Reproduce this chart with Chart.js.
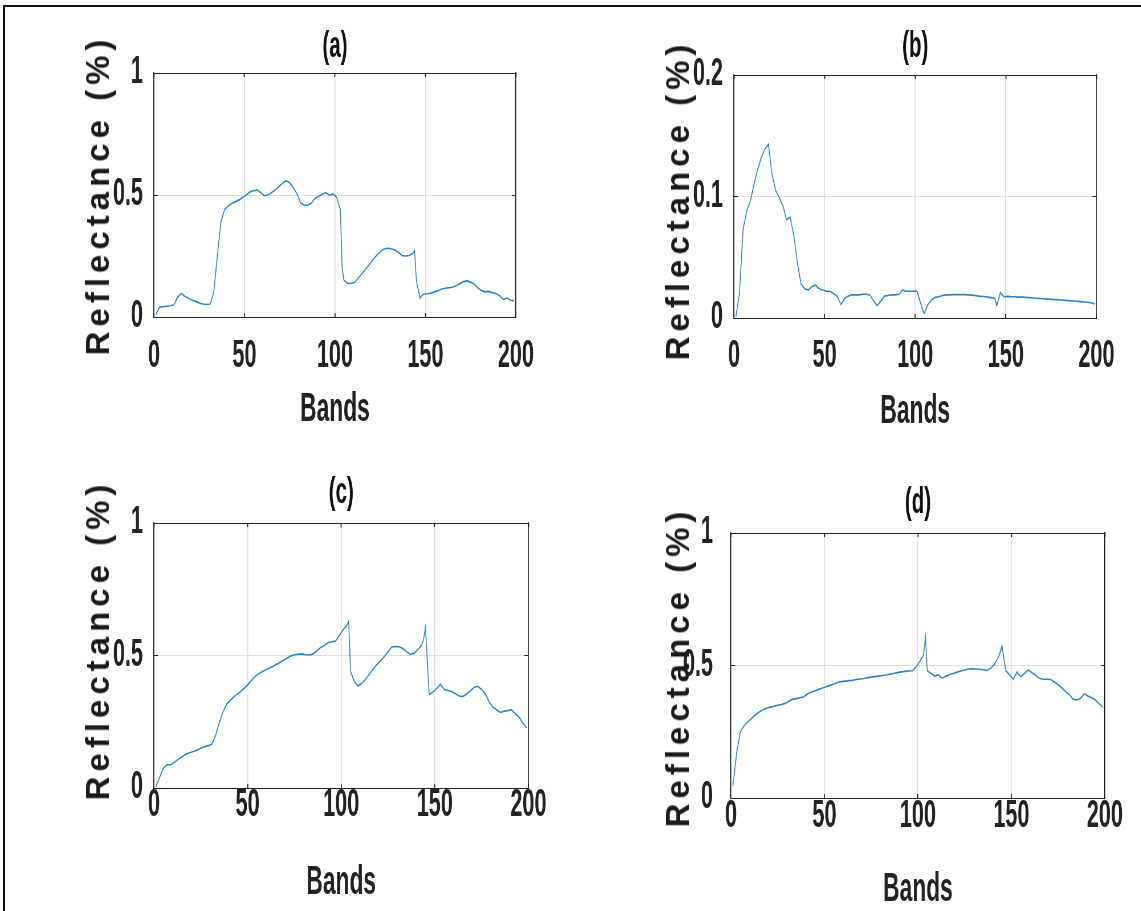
<!DOCTYPE html>
<html>
<head>
<meta charset="utf-8">
<script src="https://cdn.jsdelivr.net/npm/chart.js@4.4.1/dist/chart.umd.min.js"></script>
<style>
body { margin: 0; background: #fff; width: 1141px; height: 911px; overflow: hidden; position: relative; }
.frame { position: absolute; left: 3px; top: 5px; width: 1140px; height: 910px; border-top: 2px solid #111; border-left: 2px solid #111; }
.panel { position: absolute; }
.panel canvas { transform: scaleX(0.57); transform-origin: 0 0; }
.ylab { position: absolute; font-family: 'Liberation Sans', Arial, sans-serif; font-weight: bold; font-size: 33px;
        letter-spacing: 5px; color: #1a1a1a; white-space: nowrap; transform: translate(-50%, -50%) rotate(-90deg); }
</style>
</head>
<body>
<div class="frame"></div>
<script>
// band numbers (x) shared by all four spectra
const bands = [1,3,5,7,9,11,13,15,17,19,21,23,25,27,29,31,33,35,37,39,41,43,45,47,49,51,53,55,57,59,
  61,63,65,67,69,71,73,75,77,79,81,83,85,87,89,91,93,95,97,99,101,103,104,105,107,109,111,113,115,117,
  119,121,123,125,127,129,131,133,135,137,139,141,143,144,145,147,149,151,153,155,157,159,161,163,165,
  167,169,171,173,175,177,179,181,183,185,187,189,191,193,195,197,199];

const reflA = [0.01,0.04,0.042,0.044,0.046,0.05,0.08,0.097,0.085,0.077,
  0.07,0.064,0.058,0.053,0.051,0.053,0.1,0.25,0.39,0.44,
  0.455,0.465,0.472,0.48,0.49,0.5,0.512,0.518,0.52,0.51,
  0.497,0.5,0.51,0.52,0.535,0.548,0.558,0.55,0.53,0.505,
  0.468,0.458,0.458,0.467,0.487,0.495,0.503,0.51,0.498,0.505,
  0.49,0.44,0.2,
  0.15,0.138,0.137,0.142,0.16,0.178,0.196,0.215,0.235,0.252,0.267,0.279,0.282,0.28,0.275,0.265,0.252,0.25,0.252,0.26,
  0.272,
  0.15,0.078,0.094,0.095,0.098,0.103,0.108,0.115,0.118,0.12,0.122,0.128,0.136,0.145,0.148,0.143,0.134,0.12,0.108,0.103,
  0.105,0.1,0.095,0.088,0.072,0.078,0.07,0.066];

const reflB = [0.001,0.02,0.073,0.088,0.096,0.11,0.122,0.132,0.139,0.143,
  0.118,0.105,0.099,0.092,0.081,0.083,0.068,0.045,0.028,0.024,
  0.023,0.026,0.027,0.024,0.023,0.022,0.022,0.02,0.018,0.011,
  0.016,0.018,0.019,0.019,0.019,0.0195,0.0195,0.019,0.014,0.01,
  0.014,0.018,0.0185,0.019,0.019,0.0195,0.023,0.022,0.022,0.022,
  0.022,0.012,0.007,
  0.004,0.011,0.015,0.017,0.0175,0.0185,0.019,0.019,0.0192,0.0192,0.0193,0.0192,0.019,0.0188,0.0185,0.018,0.0178,0.0175,0.017,0.0165,
  0.016,
  0.01,0.021,0.0175,0.0178,0.0175,0.0175,0.0172,0.0173,0.017,0.0168,0.0165,0.0163,0.016,0.0158,0.0155,0.0153,0.0151,0.015,0.0148,0.0145,
  0.0143,0.014,0.0138,0.0135,0.0132,0.013,0.0125,0.0115];

const reflC = [0.005,0.04,0.075,0.088,0.088,0.098,0.108,0.118,0.127,0.133,
  0.138,0.143,0.15,0.156,0.16,0.166,0.2,0.25,0.29,0.318,
  0.333,0.346,0.357,0.369,0.382,0.397,0.413,0.427,0.436,0.443,
  0.45,0.457,0.465,0.473,0.482,0.49,0.498,0.503,0.505,0.506,
  0.503,0.502,0.506,0.518,0.53,0.538,0.548,0.552,0.555,0.575,
  0.598,0.612,0.63,
  0.44,0.402,0.385,0.395,0.41,0.43,0.448,0.465,0.48,0.496,0.515,0.532,0.534,0.533,0.526,0.514,0.505,0.508,0.522,0.54,
  0.56,
  0.606,0.352,0.362,0.375,0.392,0.372,0.368,0.364,0.356,0.347,0.345,0.355,0.366,0.38,0.384,0.372,0.355,0.325,0.305,0.295,
  0.285,0.29,0.292,0.295,0.28,0.268,0.245,0.228];

const reflD = [0.045,0.17,0.25,0.273,0.288,0.3,0.314,0.324,0.333,0.339,
  0.343,0.346,0.35,0.353,0.357,0.365,0.373,0.375,0.378,0.382,
  0.393,0.4,0.405,0.41,0.415,0.42,0.425,0.43,0.436,0.439,
  0.441,0.443,0.444,0.447,0.449,0.451,0.454,0.456,0.458,0.46,
  0.462,0.464,0.467,0.47,0.473,0.476,0.478,0.479,0.48,0.495,
  0.515,0.54,0.606,
  0.48,0.47,0.46,0.465,0.452,0.46,0.466,0.47,0.475,0.479,0.483,0.487,0.488,0.487,0.486,0.484,0.481,0.49,0.505,0.53,
  0.55,
  0.573,0.48,0.465,0.448,0.475,0.458,0.47,0.483,0.473,0.463,0.452,0.448,0.448,0.447,0.438,0.428,0.415,0.402,0.39,0.373,
  0.37,0.375,0.393,0.385,0.378,0.37,0.355,0.342];

const bandTicks = [0, 50, 100, 150, 200];
const reflTicks = [0, 0.5, 1];
const reflTicksB = [0, 0.1, 0.2];

const S = 0.57;          // horizontal squeeze of the original figure
const FONT = "'Liberation Sans', Arial, sans-serif";
const INK = '#222';

const panels = [
  { title: '(a)', values: reflA, yTicks: reflTicks,  L: 154, T: 73,  R: 532,  B: 317, titleY: 47,  tickY: 357, bandsY: 410, yTickRight: 143, labX: 98,  labY: 195 },
  { title: '(b)', values: reflB, yTicks: reflTicksB, L: 734, T: 75,  R: 1112, B: 318, titleY: 47,  tickY: 357, bandsY: 412, yTickRight: 723, labX: 678, labY: 200 },
  { title: '(c)', values: reflC, yTicks: reflTicks,  L: 154, T: 523, R: 532,  B: 788, titleY: 493, tickY: 806, bandsY: 883, yTickRight: 143, labX: 98,  labY: 640 },
  { title: '(d)', values: reflD, yTicks: reflTicks,  L: 731, T: 533, R: 1109, B: 798, titleY: 503, tickY: 817, bandsY: 890, yTickRight: 713, labX: 678, labY: 667 }
];

function setTicks(list) {
  return scale => { scale.ticks = list.map(v => ({ value: v })); };
}

panels.forEach(p => {
  const cx0 = p.L - 64, cx1 = p.R + 14, cy0 = p.T - 62, cy1 = p.bandsY + 30;
  const div = document.createElement('div');
  div.className = 'panel';
  div.style.left = cx0 + 'px';
  div.style.top = cy0 + 'px';
  const cv = document.createElement('canvas');
  cv.width = Math.round((cx1 - cx0) / S);
  cv.height = cy1 - cy0;
  div.appendChild(cv);
  document.body.appendChild(div);

  const leftW = (p.L - cx0) / S;
  const padRight = cv.width - (p.R - cx0) / S;
  const topH = p.T - cy0;
  const botH = cy1 - p.B;
  const yMin = p.yTicks[0], yMax = p.yTicks[p.yTicks.length - 1];

  const lab = document.createElement('div');
  lab.className = 'ylab';
  lab.textContent = 'Reflectance (%)';
  lab.style.left = p.labX + 'px';
  lab.style.top = p.labY + 'px';
  document.body.appendChild(lab);

  new Chart(cv, {
    type: 'line',
    data: {
      datasets: [{
        data: bands.map((b, i) => ({ x: b, y: p.values[i] })),
        borderColor: '#2d83c8',
        borderWidth: 1.6,
        pointRadius: 0,
        tension: 0
      }]
    },
    options: {
      responsive: false,
      animation: false,
      events: [],
      layout: { padding: { left: 0, right: padRight, top: 0, bottom: 0 } },
      plugins: { legend: { display: false }, tooltip: { enabled: false } },
      scales: {
        x: {
          type: 'linear', position: 'bottom', min: 0, max: 200,
          afterBuildTicks: setTicks(bandTicks),
          afterFit: s => { s.height = botH; },
          grid: { color: '#dedede', lineWidth: 1.75, tickLength: -4, tickColor: INK, tickWidth: 1.75 },
          border: { display: true, color: INK, width: 1 },
          ticks: { color: INK, autoSkip: false, maxRotation: 0,
                   padding: (p.tickY - p.B) - 22.8 + 4,
                   callback: v => String(v),
                   font: { family: FONT, size: 38, weight: 'bold' } },
          title: { display: true, text: 'Bands', color: INK, padding: { top: 0, bottom: (cy1 - p.bandsY) - 24 },
                   font: { family: FONT, size: 40, weight: 'bold' } }
        },
        x2: {
          type: 'linear', position: 'top', min: 0, max: 200,
          afterBuildTicks: setTicks(bandTicks),
          afterFit: s => { s.height = topH; },
          grid: { color: 'rgba(0,0,0,0)', tickLength: -4, tickColor: INK, tickWidth: 1.75 },
          border: { display: true, color: INK, width: 1 },
          ticks: { display: false },
          title: { display: true, text: p.title, color: '#111', padding: { top: (p.titleY - cy0) - 21.6, bottom: 0 },
                   font: { family: FONT, size: 36, weight: 'bold' } }
        },
        y: {
          type: 'linear', position: 'left', min: yMin, max: yMax,
          afterBuildTicks: setTicks(p.yTicks),
          afterFit: s => { s.width = leftW; },
          grid: { color: '#dedede', lineWidth: 1, tickLength: -7, tickColor: INK },
          border: { display: true, color: INK, width: 1.75 },
          ticks: { color: INK, padding: (p.L - p.yTickRight) / S + 7,
                   callback: v => String(v),
                   font: { family: FONT, size: 38, weight: 'bold' } }
        },
        y2: {
          type: 'linear', position: 'right', min: yMin, max: yMax,
          afterBuildTicks: setTicks(p.yTicks),
          afterFit: s => { s.width = 0; },
          grid: { color: 'rgba(0,0,0,0)', tickLength: -7, tickColor: INK },
          border: { display: true, color: INK, width: 1.75 },
          ticks: { display: false }
        }
      }
    }
  });
});
</script>
</body>
</html>
